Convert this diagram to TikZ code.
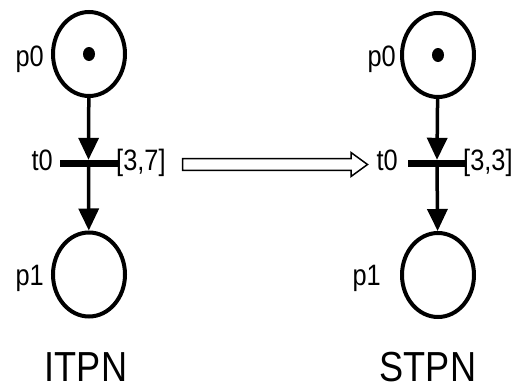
\documentclass[tikz,border=0pt]{standalone}
\usepackage{fontspec}
\setmainfont{Liberation Sans}[FakeStretch=0.86]
\usetikzlibrary{shapes.geometric,arrows.meta,calc}
\tikzset{
  place/.style={ellipse,draw,line width=4pt,minimum width=72pt,minimum height=84pt,inner sep=0pt},
  bar/.style={rectangle,fill=black,minimum width=58pt,minimum height=7pt,inner sep=0pt},
  token/.style={ellipse,fill=black,minimum width=12pt,minimum height=14pt,inner sep=0pt},
  lbl/.style={inner sep=0pt,font=\fontsize{29.5}{32}\selectfont},
  title/.style={inner sep=0pt,font=\fontsize{42}{44}\selectfont},
  arc/.style={line width=3.5pt,-{Triangle[length=22pt,width=20pt]}},
  hollow/.style={draw,line width=1.5pt,fill=white,line join=miter}
}
\begin{document}
\begin{tikzpicture}[x=1pt,y=-1pt]
\useasboundingbox (0,0) rectangle (525,388);
% left net (ITPN)
\node[place] (lp0) at (89,54) {};
\node[token] (ltok) at (89,54) {};
\node[bar] (lt0) at (88.5,163.5) {};
\node[place] (lp1) at (89,274.5) {};
\draw[arc] (lp0) -- (lt0.north);
\draw[arc] (lt0.center) -- (lp1);
\node[lbl,anchor=base east] (lp0l) at (44,66) {p0};
\node[lbl,anchor=base east] (lt0l) at (53,170) {t0};
\node[lbl,anchor=base west] (lt0i) at (116,170) {[3,7]};
\node[lbl,anchor=base east] (lp1l) at (44,285) {p1};
\node[title,anchor=base] (itpn) at (86,381.5) {ITPN};
% right net (STPN)
\node[place] (rp0) at (438,55) {};
\node[token] (rtok) at (438,55) {};
\node[bar] (rt0) at (437,163.5) {};
\node[place] (rp1) at (438,275) {};
\draw[arc] (rp0) -- (rt0.north);
\draw[arc] (rt0.center) -- (rp1);
\node[lbl,anchor=base east] (rp0l) at (396,66) {p0};
\node[lbl,anchor=base east] (rt0l) at (398,170) {t0};
\node[lbl,anchor=base west] (rt0i) at (463,170) {[3,3]};
\node[lbl,anchor=base east] (rp1l) at (381,285) {p1};
\node[title,anchor=base] (stpn) at (428,381) {STPN};
% hollow transformation arrow
\coordinate (hs) at (182.5,164.5);
\coordinate (ht) at (367.5,164.5);
\draw[hollow] ($(hs)+(0,-5.8)$) -- ($(ht)+(-16.5,-5.8)$) -- ($(ht)+(-16.5,-12)$) -- (ht)
  -- ($(ht)+(-16.5,12)$) -- ($(ht)+(-16.5,5.8)$) -- ($(hs)+(0,5.8)$) -- cycle;
\end{tikzpicture}
\end{document}
